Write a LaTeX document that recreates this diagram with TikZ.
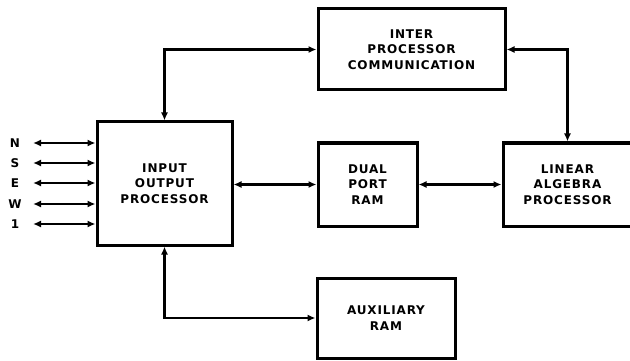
\documentclass[tikz,border=0pt]{standalone}
\usepackage{fontspec}
\newfontfamily\lbl[LetterSpace=7]{DejaVu Sans}
\usetikzlibrary{arrows.meta}
\begin{document}
\begin{tikzpicture}[x=1pt,y=-1pt,
  blk/.style={draw,line width=3pt,inner sep=0pt,align=center,
    font=\lbl\bfseries\fontsize{12}{15.5}\selectfont},
  lab/.style={font=\lbl\bfseries\fontsize{12}{13}\selectfont,inner sep=0pt},
  conn/.style={line width=2.6pt,{Latex[length=8pt,width=7pt]}-{Latex[length=8pt,width=7pt]}}]
\useasboundingbox (0,0) rectangle (630,361);
\clip (0,0) rectangle (630,361);
\node[blk,minimum width=135pt,minimum height=123pt] (iop) at (164.5,183.5) {INPUT\\OUTPUT\\PROCESSOR};
\node[blk,minimum width=187pt,minimum height=81pt] (ipc) at (411.5,49.5) {INTER\\PROCESSOR\\COMMUNICATION};
\node[blk,minimum width=99pt,minimum height=83pt] (dpr) at (367.5,184.5) {DUAL\\PORT\\RAM};
\node[blk,minimum width=129pt,minimum height=83pt] (lap) at (567.5,184.5) {LINEAR\\ALGEBRA\\PROCESSOR};
\node[blk,minimum width=138pt,minimum height=80pt] (aux) at (386,318) {AUXILIARY\\RAM};
\draw[conn] (ipc.west) -| (iop.north);
\draw[conn] (ipc.east) -| (lap.north);
\draw[conn] (iop.east |- dpr.west) -- (dpr.west);
\draw[conn] (dpr.east) -- (lap.west);
\draw[conn] (iop.south) |- (aux.west);
\foreach \nm/\t/\y in {n/N/143,s/S/163,e/E/183,w/W/204,i/1/224}{
  \node[lab] (l\nm) at (15,\y) {\t};
  \coordinate (c\nm) at (33,\y);
  \draw[conn] (c\nm) -- (c\nm -| iop.west);
}
\end{tikzpicture}
\end{document}
